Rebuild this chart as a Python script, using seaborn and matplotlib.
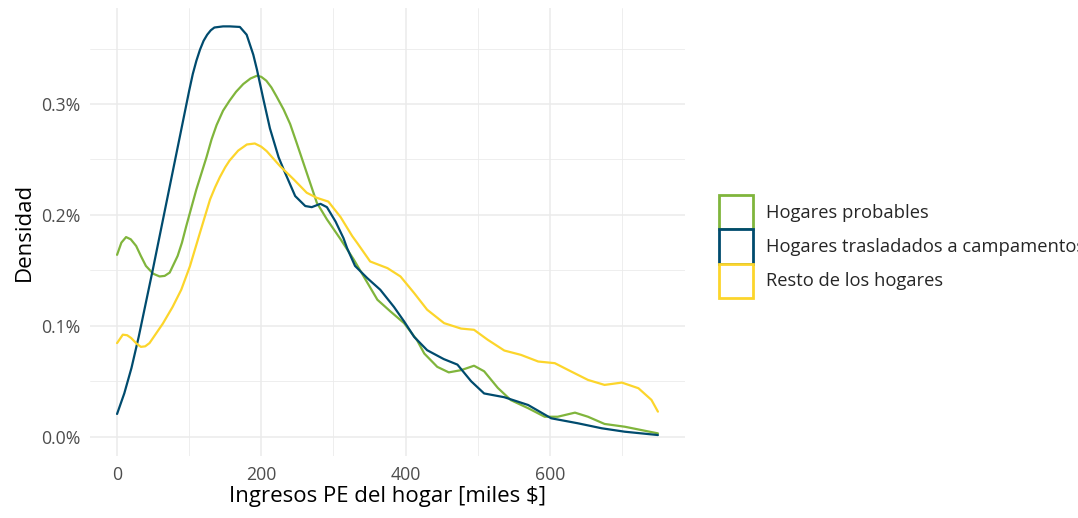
import matplotlib
matplotlib.use("Agg")
import matplotlib.pyplot as plt
from matplotlib.patches import Patch
from matplotlib.ticker import FuncFormatter
import pandas as pd
import seaborn as sns


GROUPS = ["Hogares probables", "Hogares trasladados a campamentos", "Resto de los hogares"]
COLORS = ["#80B53C", "#004B6E", "#FCD52B"]

# densidad en %
probables_x = [0, 6, 12.5, 19, 26.5, 33, 40, 50, 59, 66, 73, 84, 90, 96, 110, 124, 131, 138,
               147, 156, 165, 175, 185, 194, 200, 207, 214, 221, 231, 240, 249, 263, 277, 291,
               310, 328, 342, 361, 379, 398, 416, 426, 444, 460, 477, 495, 509, 528, 546, 570,
               593, 611, 635, 653, 676, 704, 727, 750]
probables_y = [0.164, 0.175, 0.180, 0.178, 0.172, 0.163, 0.154, 0.147, 0.1445, 0.145, 0.148,
               0.163, 0.175, 0.190, 0.223, 0.252, 0.268, 0.281, 0.294, 0.303, 0.311, 0.318,
               0.323, 0.3255, 0.3245, 0.321, 0.315, 0.307, 0.295, 0.282, 0.265, 0.238, 0.211,
               0.196, 0.178, 0.160, 0.1445, 0.1235, 0.113, 0.1024, 0.087, 0.075, 0.063, 0.058,
               0.060, 0.064, 0.059, 0.044, 0.033, 0.0257, 0.018, 0.018, 0.0217, 0.018, 0.0115,
               0.009, 0.006, 0.003]

campamentos_x = [0, 10, 20, 30, 40, 50, 60, 70, 80, 90, 100, 105, 110, 115, 120, 125, 130,
                 135, 147, 156.4, 170.3, 179.7, 188.9, 194, 203, 212, 224, 231, 247, 261, 270,
                 282, 291, 303, 314, 319, 330, 347, 365, 384, 398, 412, 430, 453, 472, 491,
                 509, 537, 570, 602, 639, 672, 704, 750]
campamentos_y = [0.0205, 0.039, 0.062, 0.090, 0.121, 0.152, 0.184, 0.216, 0.248, 0.280, 0.312,
                 0.327, 0.339, 0.349, 0.357, 0.3625, 0.3665, 0.369, 0.370, 0.370, 0.3695,
                 0.3625, 0.3445, 0.331, 0.304, 0.278, 0.252, 0.241, 0.217, 0.208, 0.207, 0.210,
                 0.207, 0.194, 0.179, 0.170, 0.154, 0.143, 0.1325, 0.117, 0.104, 0.090, 0.078,
                 0.070, 0.065, 0.050, 0.039, 0.0356, 0.0286, 0.0166, 0.0121, 0.0076, 0.0045,
                 0.0015]

resto_x = [0, 8, 14, 19.5, 27, 33, 39, 45, 63.5, 77, 89, 101, 115, 129, 136, 142.5, 150, 156,
           168, 180, 191, 200, 207.5, 226, 245, 263, 277, 293, 310, 326, 333, 351, 375, 393,
           412, 430, 453.5, 477, 495, 514, 537, 560, 584, 607, 630, 653, 676, 700, 723, 741,
           750]
resto_y = [0.0844, 0.092, 0.0915, 0.089, 0.084, 0.081, 0.0815, 0.0844, 0.102, 0.117, 0.1325,
           0.1536, 0.184, 0.214, 0.225, 0.234, 0.243, 0.249, 0.258, 0.2635, 0.2644, 0.2615,
           0.2575, 0.244, 0.232, 0.220, 0.2154, 0.212, 0.198, 0.181, 0.1747, 0.158, 0.152,
           0.1445, 0.1295, 0.1145, 0.1024, 0.0975, 0.0964, 0.0874, 0.0777, 0.0738, 0.0678,
           0.0663, 0.0587, 0.0512, 0.0467, 0.0488, 0.0437, 0.0332, 0.0226]


def build_df():
    parts = []
    for name, xs, ys in zip(GROUPS,
                            [probables_x, campamentos_x, resto_x],
                            [probables_y, campamentos_y, resto_y]):
        parts.append(pd.DataFrame({"ingreso": xs, "densidad": ys, "grupo": name}))
    return pd.concat(parts, ignore_index=True)


def main():
    sns.set_theme(style="white", rc={"lines.solid_joinstyle": "round"})
    plt.rcParams["font.family"] = ["Open Sans", "DejaVu Sans"]

    df = build_df()

    fig = plt.figure(figsize=(10.78, 5.18), dpi=100)
    ax = fig.add_axes([0.0835, 0.1197, 0.5519, 0.8649])

    sns.lineplot(data=df, x="ingreso", y="densidad", hue="grupo", hue_order=GROUPS,
                 palette=COLORS, estimator=None, linewidth=1.6, legend=False, ax=ax)

    ax.set_xlim(-37.5, 787.5)
    ax.set_ylim(-0.0174, 0.3866)
    ax.set_xticks([0, 200, 400, 600])
    ax.set_xticks([100, 300, 500, 700], minor=True)
    ax.set_yticks([0.0, 0.1, 0.2, 0.3])
    ax.set_yticks([0.05, 0.15, 0.25, 0.35], minor=True)
    ax.yaxis.set_major_formatter(FuncFormatter(lambda v, p: f"{v:.1f}%"))

    ax.grid(which="major", color="#EBEBEB", linewidth=1.1)
    ax.grid(which="minor", color="#EBEBEB", linewidth=0.6)
    ax.set_axisbelow(True)
    for s in ax.spines.values():
        s.set_visible(False)
    ax.tick_params(axis="both", which="both", length=0, labelsize=12.7, labelcolor="#4D4D4D")
    ax.tick_params(axis="x", pad=7)
    ax.tick_params(axis="y", pad=7)

    ax.set_xlabel("Ingresos PE del hogar [miles $]", fontsize=16, color="black", labelpad=2)
    ax.set_ylabel("Densidad", fontsize=16, color="black", labelpad=4)

    handles = [Patch(facecolor="white", edgecolor=c, linewidth=2) for c in COLORS]
    fig.legend(handles, GROUPS, loc="center left", bbox_to_anchor=(0.667, 0.524),
               frameon=False, fontsize=13.2, handlelength=1.86, handleheight=2.5,
               handletextpad=0.71, labelspacing=0.0, borderpad=0, borderaxespad=0)

    fig.savefig("out.png", dpi=100)
    plt.close(fig)


if __name__ == "__main__":
    main()
